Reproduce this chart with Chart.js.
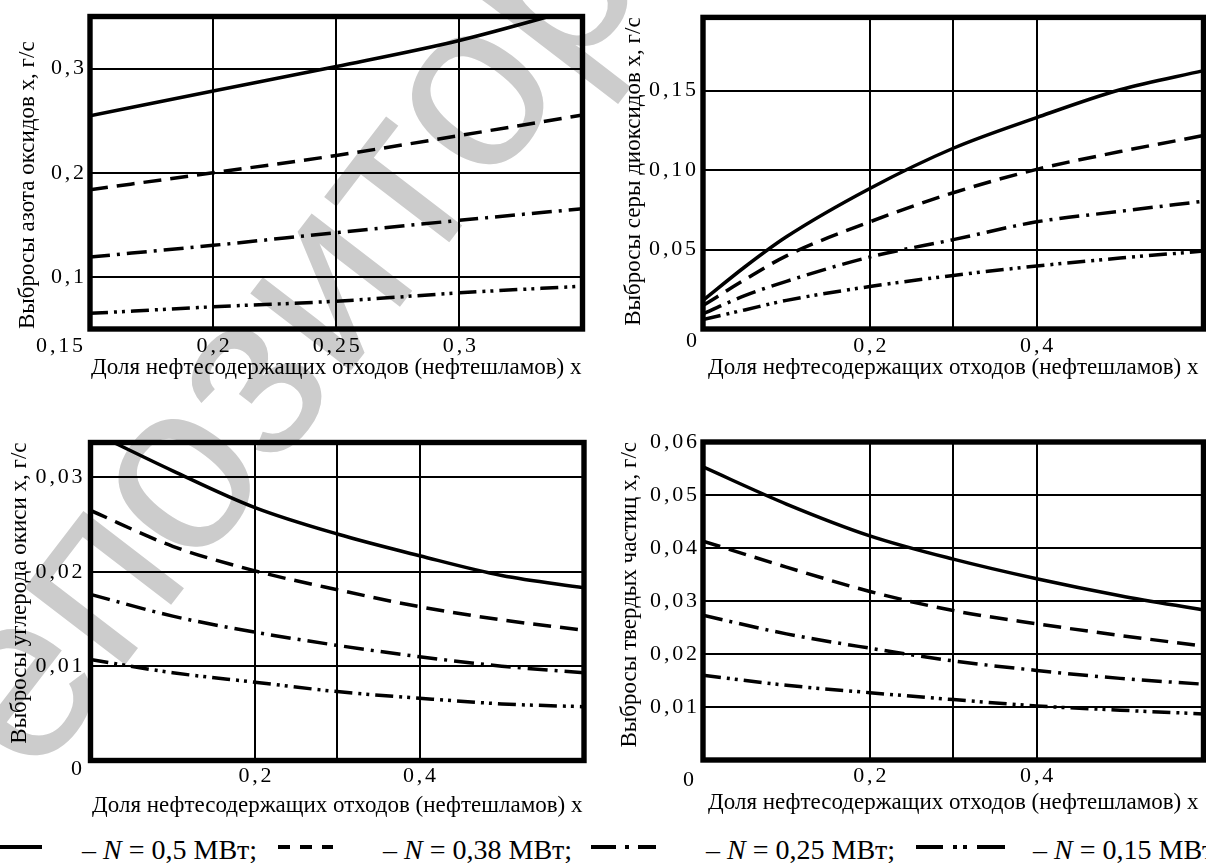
<!DOCTYPE html>
<html><head><meta charset="utf-8">
<script src="https://cdn.jsdelivr.net/npm/chart.js@4.4.1/dist/chart.umd.min.js"></script>
<style>
html,body{margin:0;padding:0;background:#fff;}
body{width:1206px;height:863px;position:relative;overflow:hidden;}
#wm{position:absolute;left:-28px;top:685px;height:240px;line-height:240px;font-family:"Liberation Sans",sans-serif;font-size:240px;color:#cccccc;white-space:nowrap;transform-origin:0 100%;transform:rotate(-52.5deg);z-index:0;}
canvas{position:absolute;z-index:1;}
.ls{position:absolute;z-index:2;}
.lt{position:absolute;z-index:2;font-family:"Liberation Serif",serif;font-size:28px;line-height:28px;letter-spacing:0px;white-space:nowrap;color:#000;}
</style></head><body>
<div id="wm">Репозиторий БНТУ</div>
<canvas id="c1" width="603" height="415" style="left:0;top:0"></canvas>
<canvas id="c2" width="603" height="415" style="left:603px;top:0"></canvas>
<canvas id="c3" width="603" height="415" style="left:0;top:415px"></canvas>
<canvas id="c4" width="603" height="415" style="left:603px;top:415px"></canvas>
<div id="legend"></div>
<script>
// ---- data ----
const legendPower = ['0,5', '0,38', '0,25', '0,15'];
const xTitle = 'Доля нефтесодержащих отходов (нефтешламов) x';

// Chart 1: nitrogen oxides
const noxTitle = 'Выбросы азота оксидов x, г/с';
const noxX = [0.15, 0.2, 0.25, 0.3, 0.35];
const noxN050 = [0.2547, 0.2785, 0.302, 0.327, 0.359];
const noxN038 = [0.1837, 0.2, 0.2166, 0.2357, 0.2555];
const noxN025 = [0.1191, 0.1303, 0.1425, 0.1543, 0.1655];
const noxN015 = [0.065, 0.0713, 0.0767, 0.0847, 0.0911];
const noxXTicks = [0.2, 0.25, 0.3];
const noxXLabels = ['0,2', '0,25', '0,3'];
const noxYTicks = [0.1, 0.2, 0.3];
const noxYLabels = ['0,1', '0,2', '0,3'];

// Chart 2: sulphur dioxide
const so2Title = 'Выбросы серы диоксидов x, г/с';
const so2X = [0, 0.05, 0.1, 0.2, 0.3, 0.4, 0.5, 0.6];
const so2N050 = [0.018, 0.039, 0.058, 0.0884, 0.1137, 0.133, 0.1505, 0.1625];
const so2N038 = [0.0147, 0.031, 0.046, 0.0674, 0.0857, 0.1004, 0.1116, 0.1217];
const so2N025 = [0.0095, 0.021, 0.030, 0.0453, 0.0562, 0.0674, 0.074, 0.0804];
const so2N015 = [0.006, 0.012, 0.018, 0.0267, 0.0337, 0.0396, 0.0446, 0.049];
const so2YTicks = [0.05, 0.1, 0.15];
const so2YLabels = ['0,05', '0,10', '0,15'];

// Chart 3: carbon monoxide
const coTitle = 'Выбросы углерода окиси x, г/с';
const coX = [0, 0.1, 0.2, 0.3, 0.4, 0.5, 0.6];
const coN050 = [0.0349, 0.0307, 0.0268, 0.024, 0.0217, 0.0196, 0.0183];
const coN038 = [0.0265, 0.0227, 0.0201, 0.0181, 0.0163, 0.0149, 0.0138];
const coN025 = [0.0176, 0.0153, 0.0136, 0.0122, 0.011, 0.01, 0.0093];
const coN015 = [0.0107, 0.0093, 0.0083, 0.0073, 0.0066, 0.006, 0.0057];
const coYTicks = [0.01, 0.02, 0.03];
const coYLabels = ['0,01', '0,02', '0,03'];

// Chart 4: solid particles
const pmTitle = 'Выбросы твердых частиц x, г/с';
const pmX = [0, 0.1, 0.2, 0.3, 0.4, 0.5, 0.6];
const pmN050 = [0.0553, 0.0483, 0.0423, 0.0379, 0.0342, 0.031, 0.0283];
const pmN038 = [0.0413, 0.0364, 0.0318, 0.0282, 0.0257, 0.0235, 0.0215];
const pmN025 = [0.0273, 0.0238, 0.0211, 0.0187, 0.0169, 0.0154, 0.0143];
const pmN015 = [0.016, 0.0141, 0.0127, 0.0114, 0.0102, 0.0094, 0.0087];
const pmYTicks = [0.01, 0.02, 0.03, 0.04, 0.05, 0.06];
const pmYLabels = ['0,01', '0,02', '0,03', '0,04', '0,05', '0,06'];

const fracXTicks = [0.2, 0.3, 0.4];
const fracXLabels = ['0,2', '', '0,4'];

// ---- styles ----
const dashes = [[], [18, 9], [20, 7, 3, 7], [18, 6, 3, 5, 3, 6]];
const legendDash = ['', '12 10', '25 9 4 9 30', '27 10 4 6 4 10 30'];
const tickFont = {family: 'Liberation Serif', size: 22};
const tickSpacing = '2.8px';
const titleFont = {family: 'Liberation Serif', size: 23};

// linear scale whose tick labels are drawn letter-spaced (like the scanned figure)
class SpacedLinear extends Chart.LinearScale {
  drawLabels(area) {
    const c = this.ctx;
    const old = c.letterSpacing;
    c.letterSpacing = tickSpacing;
    super.drawLabels(area);
    c.letterSpacing = old || '0px';
  }
}
SpacedLinear.id = 'spacedLinear';
SpacedLinear.defaults = Chart.LinearScale.defaults;
Chart.register(SpacedLinear);

const framePlugin = {
  id: 'frame',
  afterDatasetsDraw(chart) {
    const a = chart.chartArea, c = chart.ctx;
    c.save(); c.strokeStyle = '#000'; c.lineWidth = 5.4;
    c.strokeRect(a.left, a.top, a.right - a.left, a.bottom - a.top);
    c.restore();
  }
};

function makeChart(id, d, g) {
  const ticksFrom = vals => s => { s.ticks = vals.map(v => ({value: v})); };
  return new Chart(document.getElementById(id), {
    type: 'line',
    data: {
      datasets: d.series.map((s, i) => ({
        data: d.x.map((xv, j) => ({x: xv, y: s[j]})),
        borderColor: '#000', borderWidth: 3.5, borderDash: dashes[i],
        pointRadius: 0, cubicInterpolationMode: 'monotone', fill: false
      }))
    },
    options: {
      responsive: false, animation: false, devicePixelRatio: 1,
      layout: {padding: {left: 0, top: g.padTop, right: g.padRight, bottom: 0}},
      plugins: {legend: {display: false}, tooltip: {enabled: false}},
      scales: {
        x: {
          type: 'spacedLinear', min: d.xMin, max: d.xMax, position: 'bottom',
          afterBuildTicks: ticksFrom(d.xTicks),
          afterFit: s => { s.height = g.xH; },
          ticks: {callback: (v, i) => d.xLabels[i], autoSkip: false, maxRotation: 0, minRotation: 0,
                  padding: g.xTickPad, font: tickFont, color: '#000', labelOffset: 1.4},
          grid: {color: '#000', lineWidth: 2, drawTicks: false},
          border: {display: false},
          title: {display: true, text: xTitle, font: titleFont, color: '#000', padding: {top: 0, bottom: g.xTitlePad}}
        },
        x0: {
          type: 'spacedLinear', min: d.xMin, max: d.xMax, position: 'bottom', weight: -1,
          afterBuildTicks: ticksFrom([d.xMin]),
          afterFit: s => { s.height = 0; },
          ticks: {callback: () => d.cornerLabel, autoSkip: false, maxRotation: 0, minRotation: 0, mirror: true,
                  align: 'end', labelOffset: g.cornerOffX + 2.8, padding: -(13.2 + g.cornerD), font: tickFont, color: '#000'},
          grid: {display: false, drawTicks: false},
          border: {display: false}
        },
        y: {
          type: 'spacedLinear', min: d.yMin, max: d.yMax, position: 'left',
          afterBuildTicks: ticksFrom(d.yTicks),
          afterFit: s => { s.width = g.yW; },
          ticks: {callback: (v, i) => d.yLabels[i], autoSkip: false, padding: g.yTickPad - 2.8, font: tickFont, color: '#000'},
          grid: {color: '#000', lineWidth: 2, drawTicks: false},
          border: {display: false},
          title: {display: true, text: d.yTitle, font: titleFont, color: '#000', align: g.yTitleAlign, padding: {top: g.yTitlePad, bottom: 0}}
        }
      }
    },
    plugins: [framePlugin]
  });
}

makeChart('c1', {
  x: noxX, series: [noxN050, noxN038, noxN025, noxN015], xMin: 0.15, xMax: 0.35, yMin: 0.05, yMax: 0.35,
  xTicks: noxXTicks, xLabels: noxXLabels, yTicks: noxYTicks, yLabels: noxYLabels, yTitle: noxTitle, cornerLabel: '0,15'
}, {padTop: 16.5, padRight: 20.5, yW: 90, xH: 86, xTickPad: 4.5, xTitlePad: 33, yTickPad: 6, yTitlePad: 14, yTitleAlign: 'start', cornerOffX: -7, cornerD: 17});

makeChart('c2', {
  x: so2X, series: [so2N050, so2N038, so2N025, so2N015], xMin: 0, xMax: 0.6, yMin: 0, yMax: 0.196,
  xTicks: fracXTicks, xLabels: fracXLabels, yTicks: so2YTicks, yLabels: so2YLabels, yTitle: so2Title, cornerLabel: '0'
}, {padTop: 16.5, padRight: 2.5, yW: 100, xH: 86, xTickPad: 4.5, xTitlePad: 33, yTickPad: 7, yTitlePad: 17, yTitleAlign: 'end', cornerOffX: -6, cornerD: 12});

makeChart('c3', {
  x: coX, series: [coN050, coN038, coN025, coN015], xMin: 0, xMax: 0.6, yMin: 0, yMax: 0.0337,
  xTicks: fracXTicks, xLabels: fracXLabels, yTicks: coYTicks, yLabels: coYLabels, yTitle: coTitle, cornerLabel: '0'
}, {padTop: 27.5, padRight: 19, yW: 90.5, xH: 69.5, xTickPad: 3, xTitlePad: 10, yTickPad: 8, yTitlePad: 6, yTitleAlign: 'end', cornerOffX: -8.5, cornerD: 9});

makeChart('c4', {
  x: pmX, series: [pmN050, pmN038, pmN025, pmN015], xMin: 0, xMax: 0.6, yMin: 0, yMax: 0.06,
  xTicks: fracXTicks, xLabels: fracXLabels, yTicks: pmYTicks, yLabels: pmYLabels, yTitle: pmTitle, cornerLabel: '0'
}, {padTop: 27, padRight: 2.5, yW: 100, xH: 70, xTickPad: 3.5, xTitlePad: 13.7, yTickPad: 6, yTitlePad: 13, yTitleAlign: 'end', cornerOffX: -9, cornerD: 20.5});

// ---- shared legend ----
const legendPos = [{sx: -5, sw: 47, tx: 82}, {sx: 278, sw: 55, tx: 383}, {sx: 591, sw: 65, tx: 706}, {sx: 916, sw: 89, tx: 1033}];
const lg = document.getElementById('legend');
legendPower.forEach((p, i) => {
  const pos = legendPos[i];
  const svg = document.createElementNS('http://www.w3.org/2000/svg', 'svg');
  svg.setAttribute('class', 'ls'); svg.setAttribute('width', pos.sw); svg.setAttribute('height', 10);
  svg.style.left = pos.sx + 'px'; svg.style.top = '842px';
  const ln = document.createElementNS('http://www.w3.org/2000/svg', 'line');
  ln.setAttribute('x1', 0); ln.setAttribute('x2', pos.sw); ln.setAttribute('y1', 5); ln.setAttribute('y2', 5);
  ln.setAttribute('stroke', '#000'); ln.setAttribute('stroke-width', 4);
  if (legendDash[i]) ln.setAttribute('stroke-dasharray', legendDash[i]);
  svg.appendChild(ln); lg.appendChild(svg);
  const t = document.createElement('div');
  t.className = 'lt'; t.style.left = pos.tx + 'px'; t.style.top = '836px';
  t.innerHTML = '– <i>N</i> = ' + p + ' МВт;';
  lg.appendChild(t);
});
</script>
</body></html>
